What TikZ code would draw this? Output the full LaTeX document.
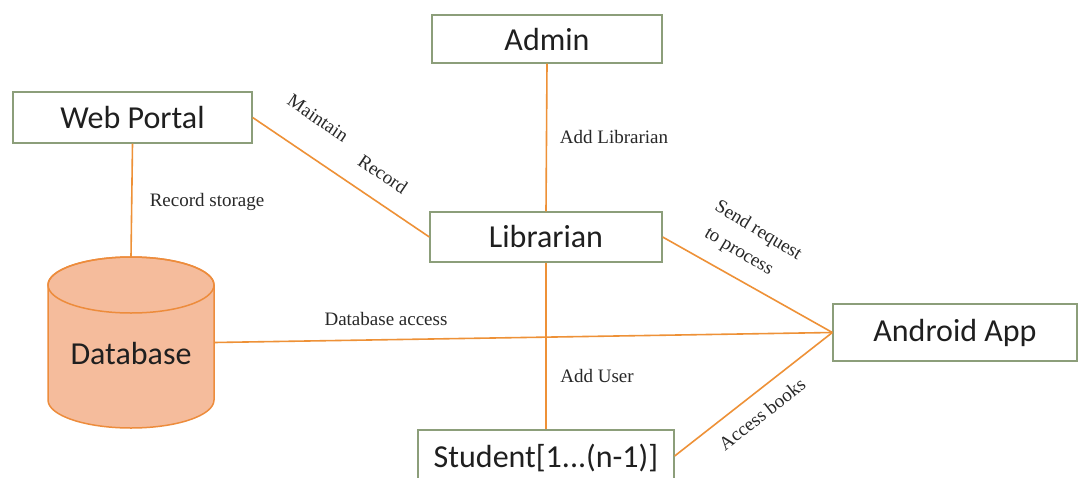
\documentclass[tikz,border=0pt]{standalone}
\usepackage{fontspec}
\setmainfont{Liberation Serif}
\newfontfamily\boxfont{Carlito}
\definecolor{boxborder}{RGB}{140,158,122}
\definecolor{linkorange}{RGB}{238,145,55}
\definecolor{dbfill}{RGB}{245,188,156}
\definecolor{dbedge}{RGB}{237,140,60}
\definecolor{labeltext}{RGB}{40,40,40}
\begin{document}
\begin{tikzpicture}[x=1pt,y=1pt,
  entity/.style={draw=boxborder, line width=1.3pt, fill=white, font=\boxfont\fontsize{32}{34}\selectfont, text=black!88, inner sep=0pt},
  link/.style={draw=linkorange, line width=1.6pt},
  lbl/.style={font=\fontsize{19}{21}\selectfont, text=labeltext, inner sep=0pt}]
\useasboundingbox (0,0) rectangle (1079,-477);
\fill[white] (0,0) rectangle (1079,-477);

% database cylinder
\path[fill=dbfill, draw=dbedge, line width=1.5pt]
  (48,-285) -- (48,-400) arc (180:360:83 and 28) -- (214,-285) arc (0:180:83 and 28) -- cycle;
\draw[dbedge, line width=1.5pt] (131,-285) ellipse (83 and 28);
\node (db) [minimum width=166pt, minimum height=171pt, inner sep=0pt] at (131,-342.5) {};
\node (dbtext) [font=\boxfont\fontsize{32}{34}\selectfont, text=black!88] at (131,-354) {Database};

% entity boxes
\node (admin) [entity, minimum width=230pt, minimum height=48pt] at (547,-39) {Admin};
\node (librarian) [entity, minimum width=232pt, minimum height=50pt] at (546,-237) {Librarian};
\node (webportal) [entity, minimum width=239pt, minimum height=51pt] at (132.5,-117.5) {Web Portal};
\node (android) [entity, minimum width=244pt, minimum height=57pt] at (955,-332.5) {Android App};
\node (student) [entity, minimum width=256pt, minimum height=52pt, text depth=0pt] at (546,-456) {Student[1...(n-1)]};

% connectors
\draw[link] (admin.south) -- (librarian.north);
\draw[link] (webportal.south) -- (db.north);
\draw[link] (webportal.east) -- (librarian.west);
\draw[link] (librarian.east) -- (android.west);
\draw[link] (db.east) -- (android.west);
\draw[link] (librarian.south) -- (student.north);
\draw[link] (student.east) -- (android.west);

% labels
\node (l1) [lbl] at (614,-137) {Add Librarian};
\node (l2) [lbl] at (207,-202) {Record storage};
\node (l3) [lbl] at (386,-319) {Database access};
\node (l4) [lbl] at (597,-376) {Add User};
\node (l5a) [lbl, rotate=-34] at (318,-118) {Maintain};
\node (l5b) [lbl, rotate=-34] at (383,-174) {Record};
\node (l6a) [lbl, rotate=-31] at (758,-231) {Send request};
\node (l6b) [lbl, rotate=-31] at (738,-253) {to process};
\node (l7) [lbl, rotate=38] at (762,-414) {Access books};
\end{tikzpicture}
\end{document}
